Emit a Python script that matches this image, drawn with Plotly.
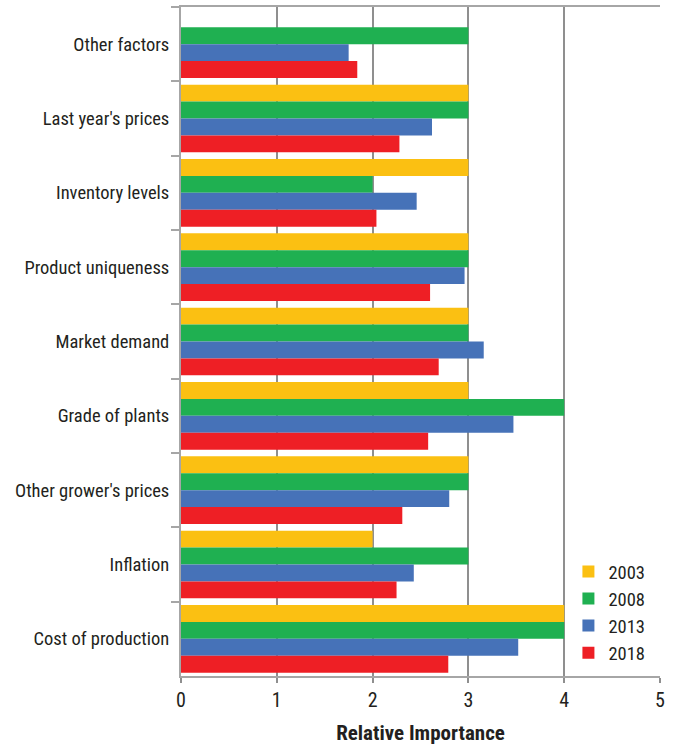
import plotly.graph_objects as go

categories = ["Other factors", "Last year's prices", "Inventory levels", "Product uniqueness",
              "Market demand", "Grade of plants", "Other grower's prices", "Inflation",
              "Cost of production"]
years = ["2003", "2008", "2013", "2018"]
v2003 = [None, 3, 3, 3, 3, 3, 3, 2, 4]
v2008 = [3, 3, 2, 3, 3, 4, 3, 3, 4]
v2013 = [1.75, 2.62, 2.46, 2.96, 3.16, 3.47, 2.80, 2.43, 3.52]
v2018 = [1.84, 2.28, 2.04, 2.60, 2.69, 2.58, 2.31, 2.25, 2.79]
colors = ["#FBC012", "#1FB051", "#4672B8", "#EE1F25"]
xticks = [0, 1, 2, 3, 4, 5]

FONT = "Liberation Sans Narrow, Roboto Condensed, Arial Narrow, Liberation Sans, sans-serif"
TXT = "#231f20"

fig = go.Figure()
for name, vals, c in zip(years, [v2003, v2008, v2013, v2018], colors):
    fig.add_trace(go.Bar(y=categories, x=vals, name=name, orientation="h",
                         marker=dict(color=c, line=dict(width=0))))

fig.update_layout(
    width=678, height=746,
    margin=dict(l=181, r=18, t=5, b=69),
    barmode="group", bargap=0.09, bargroupgap=0,
    plot_bgcolor="white", paper_bgcolor="white",
    font=dict(family=FONT, size=18.5, color=TXT),
    legend=dict(x=0.98, y=0.006, xanchor="right", yanchor="bottom",
                bgcolor="white", font=dict(size=18.5, color=TXT),
                itemsizing="constant", tracegroupgap=0),
    xaxis=dict(range=[0, 5], tickvals=xticks, ticktext=[str(t) for t in xticks],
               tickfont=dict(size=20),
               showgrid=True, gridcolor="#8f8f8f", gridwidth=1.5,
               showline=True, linecolor="#a6a6a6", linewidth=2, mirror=True,
               ticks="outside", ticklen=5, tickcolor="#8f8f8f", tickwidth=1.5,
               zeroline=False, fixedrange=True,
               title=dict(text="<b>Relative Importance</b>", font=dict(size=21, color=TXT), standoff=14)),
    yaxis=dict(type="category", categoryorder="array", categoryarray=categories,
               autorange="reversed", tickson="boundaries",
               showgrid=False, showline=True, linecolor="#a6a6a6", linewidth=2,
               ticks="outside", ticklen=8, tickcolor="#a6a6a6", tickwidth=1.5,
               ticklabelstandoff=6),
)
fig.write_html("out.html", config={"displayModeBar": False},
               post_script="document.body.style.margin='0';document.body.style.overflow='hidden';")
